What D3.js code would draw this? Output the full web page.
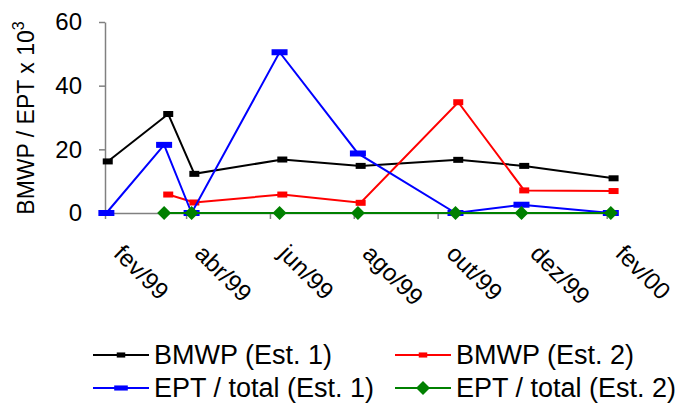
<!DOCTYPE html>
<html>
<head>
<meta charset="utf-8">
<script src="https://cdn.jsdelivr.net/npm/d3@7"></script>
<style>
  html, body { margin: 0; padding: 0; background: #fff; }
  svg { display: block; font-family: "Liberation Sans", Arial, sans-serif; }
</style>
</head>
<body>
<svg id="chart" width="677" height="416"></svg>
<script>
// ---- data ----
const tickDates = ["1999-02-01", "1999-04-01", "1999-06-01", "1999-08-01", "1999-10-01", "1999-12-01", "2000-02-01"];
const tickLabels = ["fev/99", "abr/99", "jun/99", "ago/99", "out/99", "dez/99", "fev/00"];
const datesBMWP = ["1999-02-03", "1999-03-19", "1999-04-07", "1999-06-10", "1999-08-06", "1999-10-16", "1999-12-03", "2000-02-06"];
const datesEPT  = ["1999-02-02", "1999-03-16", "1999-04-05", "1999-06-08", "1999-08-04", "1999-10-14", "1999-12-01", "2000-02-04"];
const bmwpEst1 = [16.2, 31.1, 12.3, 16.8, 14.8, 16.7, 14.8, 10.9];
const bmwpEst2 = [null, 5.8, 3.3, 5.8, 3.2, 34.8, 7.1, 6.9];
const eptEst1  = [0, 21.4, 0, 50.5, 18.7, 0, 2.6, 0];
const eptEst2  = [null, 0, 0, 0, 0, 0, 0, 0];
const yTicks = [0, 20, 40, 60];
const seriesNames = ["BMWP (Est. 1)", "BMWP (Est. 2)", "EPT / total (Est. 1)", "EPT / total (Est. 2)"];

const parse = d3.utcParse("%Y-%m-%d");
const series = [
  { name: seriesNames[0], dates: datesBMWP, values: bmwpEst1, color: "#000000", marker: "sq" },
  { name: seriesNames[1], dates: datesBMWP, values: bmwpEst2, color: "#ff0000", marker: "sq" },
  { name: seriesNames[2], dates: datesEPT,  values: eptEst1,  color: "#0000ff", marker: "wide" },
  { name: seriesNames[3], dates: datesEPT,  values: eptEst2,  color: "#008000", marker: "dia" }
];

const svg = d3.select("#chart");
const x = d3.scaleUtc().domain([parse(tickDates[0]), parse(tickDates[tickDates.length - 1])]).range([105, 606.7]);
const y = d3.scaleLinear().domain([0, 60]).range([213, 22]);
const axisColor = "#808080";

// y axis
const gy = svg.append("g").attr("transform", "translate(105,0)")
  .call(d3.axisLeft(y).tickValues(yTicks).tickSize(6).tickSizeOuter(0).tickPadding(17));
gy.select(".domain").attr("stroke", axisColor).attr("stroke-width", 1.5);
gy.selectAll(".tick line").attr("stroke", axisColor).attr("stroke-width", 1.5);
gy.selectAll(".tick text").attr("font-size", 24).attr("fill", "#000")
  .attr("font-family", "Liberation Sans, Arial, sans-serif");

// x axis
const gx = svg.append("g").attr("transform", "translate(0,213)")
  .call(d3.axisBottom(x).tickValues(tickDates.map(parse)).tickFormat((d, i) => tickLabels[i]).tickSize(6).tickSizeOuter(0));
gx.select(".domain").attr("stroke", axisColor).attr("stroke-width", 1.5);
gx.selectAll(".tick line").attr("stroke", axisColor).attr("stroke-width", 1.5);
gx.selectAll(".tick text").attr("font-size", 24).attr("fill", "#000")
  .attr("font-family", "Liberation Sans, Arial, sans-serif")
  .attr("text-anchor", "start").attr("dy", null).attr("y", null)
  .attr("transform", "translate(7,42) rotate(45)");

// axis title
const title = svg.append("text").attr("transform", "translate(34,118) rotate(-90)")
  .attr("text-anchor", "middle").attr("font-size", 23).attr("fill", "#000");
title.append("tspan").text("BMWP / EPT x 10");
title.append("tspan").text("3").attr("font-size", 16).attr("dy", -10);

// lines + markers
function drawMarker(g, type, color, cx, cy, scale) {
  scale = scale || 1;
  if (type === "sq") {
    g.append("rect").attr("x", cx - 5 * scale).attr("y", cy - 3 * scale).attr("width", 10 * scale).attr("height", 6 * scale).attr("fill", color);
  } else if (type === "wide") {
    g.append("rect").attr("x", cx - 8 * scale).attr("y", cy - 3 * scale).attr("width", 16 * scale).attr("height", 6 * scale).attr("fill", color);
  } else {
    const r = 7 * scale;
    g.append("path").attr("d", `M${cx},${cy - r}L${cx + r},${cy}L${cx},${cy + r}L${cx - r},${cy}Z`).attr("fill", color);
  }
}

series.forEach(s => {
  const pts = s.values.map((v, i) => ({ d: parse(s.dates[i]), v }));
  const line = d3.line().defined(p => p.v != null).x(p => x(p.d)).y(p => y(p.v));
  const g = svg.append("g");
  g.append("path").datum(pts).attr("d", line).attr("fill", "none").attr("stroke", s.color).attr("stroke-width", 2);
  pts.filter(p => p.v != null).forEach(p => drawMarker(g, s.marker, s.color, x(p.d), y(p.v)));
});

// legend
const legendPos = [[93, 355], [395, 355], [93, 388], [395, 388]];
series.forEach((s, i) => {
  const [lx, ly] = legendPos[i];
  const g = svg.append("g");
  g.append("line").attr("x1", lx).attr("x2", lx + 56).attr("y1", ly).attr("y2", ly).attr("stroke", s.color).attr("stroke-width", 2);
  drawMarker(g, s.marker, s.color, lx + 28, ly, s.marker === "dia" ? 1 : 0.85);
  g.append("text").attr("x", lx + 61).attr("y", ly).attr("dy", "0.35em").attr("font-size", 27).attr("fill", "#000").text(s.name);
});
</script>
</body>
</html>
